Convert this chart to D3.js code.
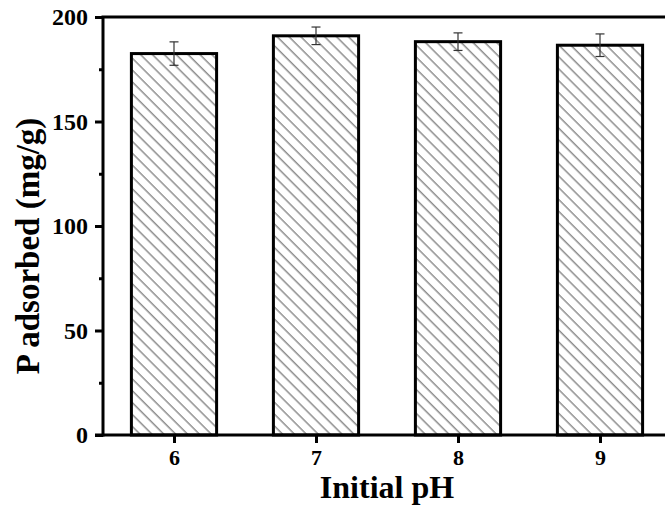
<!DOCTYPE html>
<html><head><meta charset="utf-8">
<script src="https://cdn.jsdelivr.net/npm/d3@7"></script>
<style>body{margin:0;background:#fff}svg{display:block}</style>
</head><body>
<script>
const categories = [6, 7, 8, 9];
const values = [182.5, 191, 188.2, 186.5];
const errors = [5.6, 4.2, 4.2, 5.4];
const yTicks = [0, 50, 100, 150, 200];
const yMinorTicks = [25, 75, 125, 175];

const W = 665, H = 512;
const svg = d3.select("body").append("svg").attr("width", W).attr("height", H);
const font = "'Liberation Serif', 'Times New Roman', serif";

const x = d3.scaleLinear().domain([5.5, 9.5]).range([103, 671]);
const y = d3.scaleLinear().domain([0, 200]).range([435, 17]);
const bw = (x(1) - x(0)) * 0.6;

const defs = svg.append("defs");
const pat = defs.append("pattern").attr("id", "hatch").attr("patternUnits", "userSpaceOnUse")
  .attr("width", 8.4).attr("height", 8.4).attr("patternTransform", "rotate(-45)");
pat.append("rect").attr("width", 8.4).attr("height", 8.4).attr("fill", "#fff");
pat.append("line").attr("x1", 2).attr("y1", 0).attr("x2", 2).attr("y2", 8.4)
  .attr("stroke", "#666").attr("stroke-width", 1.1);

// bars
svg.selectAll("rect.bar").data(categories).join("rect").attr("class", "bar")
  .attr("x", d => x(d) - bw / 2).attr("width", bw)
  .attr("y", (d, i) => y(values[i])).attr("height", (d, i) => y(0) - y(values[i]))
  .attr("fill", "url(#hatch)").attr("stroke", "#000").attr("stroke-width", 3);

// error bars
const eb = svg.append("g").attr("stroke", "#333").attr("stroke-width", 1.2);
categories.forEach((c, i) => {
  const cx = x(c), t = y(values[i] + errors[i]), b = y(values[i] - errors[i]);
  eb.append("line").attr("x1", cx).attr("x2", cx).attr("y1", t).attr("y2", b);
  eb.append("line").attr("x1", cx - 4.5).attr("x2", cx + 4.5).attr("y1", t).attr("y2", t);
  eb.append("line").attr("x1", cx - 4.5).attr("x2", cx + 4.5).attr("y1", b).attr("y2", b);
});

// axes
const yAxis = svg.append("g").attr("transform", `translate(103,0)`)
  .call(d3.axisLeft(y).tickValues(yTicks).tickSize(8).tickPadding(7).tickFormat(d3.format("d")));
const yMinor = svg.append("g").attr("transform", `translate(103,0)`)
  .call(d3.axisLeft(y).tickValues(yMinorTicks).tickSize(4).tickFormat(""));
const xAxis = svg.append("g").attr("transform", `translate(0,435)`)
  .call(d3.axisBottom(x).tickValues(categories).tickSize(8).tickPadding(6).tickFormat(d3.format("d")));
[yAxis, yMinor].forEach(g => {
  g.selectAll("text").attr("font-size", 24);
});
xAxis.selectAll("text").attr("font-size", 22);
[yAxis, yMinor, xAxis].forEach(g => {
  g.select(".domain").remove();
  g.selectAll(".tick line").attr("stroke", "#000").attr("stroke-width", 3);
  g.selectAll("text").attr("font-family", font).attr("font-weight", "bold").attr("fill", "#000");
});
// frame lines
svg.append("line").attr("x1", 103).attr("x2", 103).attr("y1", 16).attr("y2", 436.5)
  .attr("stroke", "#000").attr("stroke-width", 3);
svg.append("line").attr("x1", 95).attr("x2", 672).attr("y1", 435).attr("y2", 435)
  .attr("stroke", "#000").attr("stroke-width", 3);
svg.append("line").attr("x1", 101.5).attr("x2", 672).attr("y1", 17).attr("y2", 17)
  .attr("stroke", "#000").attr("stroke-width", 3);

// titles
svg.append("text").attr("x", 387).attr("y", 498).attr("text-anchor", "middle")
  .attr("font-family", font).attr("font-weight", "bold").attr("font-size", 32).text("Initial pH");
svg.append("text").attr("transform", "translate(39,246) rotate(-90)").attr("text-anchor", "middle")
  .attr("font-family", font).attr("font-weight", "bold").attr("font-size", 33).text("P adsorbed (mg/g)");
</script>
</body></html>
